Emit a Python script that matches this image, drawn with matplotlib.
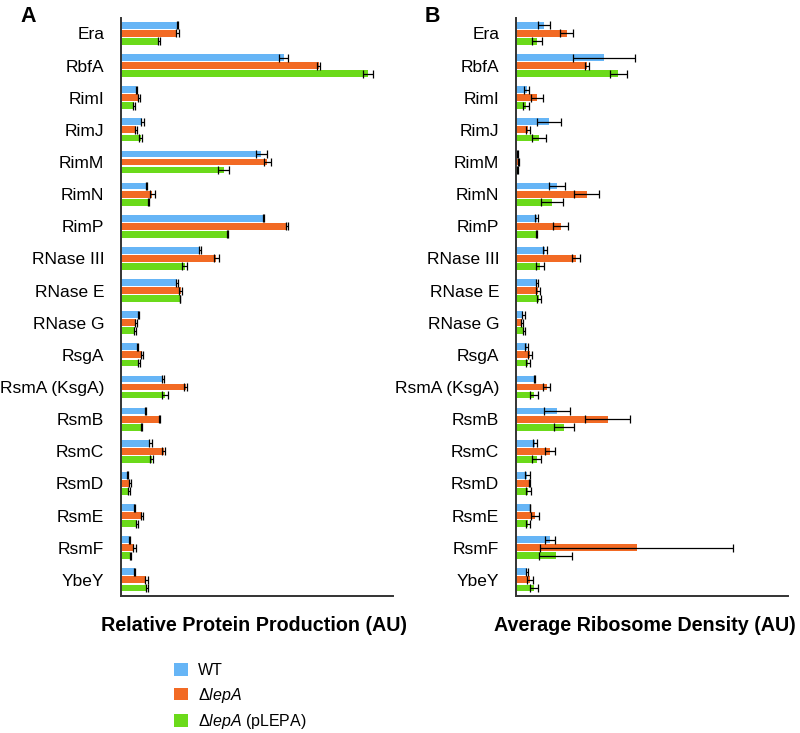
import matplotlib
matplotlib.use("Agg")
import matplotlib.pyplot as plt
import numpy as np

plt.rcParams['font.family'] = ['Liberation Sans', 'DejaVu Sans']
plt.rcParams['mathtext.fontset'] = 'custom'
plt.rcParams['mathtext.it'] = 'Liberation Sans:italic'
plt.rcParams['mathtext.rm'] = 'Liberation Sans'

categories = ["Era", "RbfA", "RimI", "RimJ", "RimM", "RimN", "RimP", "RNase III",
              "RNase E", "RNase G", "RsgA", "RsmA (KsgA)", "RsmB", "RsmC", "RsmD",
              "RsmE", "RsmF", "YbeY"]
series_labels = ["WT", r"$\mathit{\Delta lepA}$", r"$\mathit{\Delta lepA}$ (pLEPA)"]
colors = ["#66B5F6", "#F26A24", "#6BDA1A"]

# Panel A: Relative Protein Production (AU)
prod_wt = [170, 489, 47, 65, 422, 77, 428, 239, 169, 54, 50, 127, 75, 89, 21, 42, 26, 42]
prod_wt_err = [1.5, 14, 2, 5, 17, 1, 2, 3, 2, 2, 2, 3, 2, 4, 2, 1, 2, 1]
prod_dl = [170, 594, 55, 47, 440, 95, 499, 287, 180, 45, 64, 195, 117, 129, 29, 63, 41, 77]
prod_dl_err = [4, 5, 3, 3, 10, 8, 4, 8, 5, 3, 4, 4, 2, 4, 3, 3, 4, 4]
prod_pl = [115, 742, 40, 60, 309, 83, 321, 192, 178, 43, 54, 134, 62, 93, 26, 48, 29, 79]
prod_pl_err = [3, 16, 2, 4, 17, 2, 2, 8, 1, 2, 3, 9, 2, 4, 3, 3, 2, 4]

# Panel B: Average Ribosome Density (AU)
dens_wt = [84, 264, 32, 98, 4, 122, 62, 86, 62, 22, 32, 56, 122, 58, 34, 42, 102, 33]
dens_wt_err = [17, 93, 8, 36, 1, 24, 4, 6, 3, 4, 4, 1, 39, 6, 8, 1, 15, 2]
dens_dl = [152, 212, 62, 36, 7, 212, 134, 180, 66, 18, 42, 92, 275, 102, 41, 57, 362, 42]
dens_dl_err = [20, 6, 18, 5, 2, 38, 23, 11, 5, 3, 6, 11, 68, 16, 1, 11, 290, 8]
dens_pl = [62, 307, 30, 68, 4, 108, 62, 72, 69, 24, 37, 54, 144, 62, 37, 37, 119, 54]
dens_pl_err = [15, 26, 10, 21, 1, 34, 2, 12, 6, 2, 6, 11, 31, 13, 8, 6, 50, 12]

fig = plt.figure(figsize=(8.0, 7.33), dpi=100)
axA = fig.add_axes([0.151, 0.187, 0.340, 0.788])
axB = fig.add_axes([0.645, 0.187, 0.340, 0.788])

y = np.arange(len(categories))
offsets = [-0.25, 0.0, 0.25]
bh = 0.21

def draw(ax, vals, errs, xlabel, label_x):
    for k in range(3):
        ax.barh(y + offsets[k], vals[k], height=bh, color=colors[k],
                xerr=errs[k], label=series_labels[k],
                error_kw=dict(ecolor='black', elinewidth=0.9, capsize=3.2, capthick=0.9))
    ax.set_ylim(17.5, -0.47)
    ax.set_xlim(0, 817)
    ax.set_yticks(y)
    ax.set_yticklabels(categories, fontsize=12.5)
    ax.set_xticks([])
    ax.tick_params(axis='y', length=0, pad=12)
    for s in ['top', 'right']:
        ax.spines[s].set_visible(False)
    for s in ['left', 'bottom']:
        ax.spines[s].set_color('#333333')
        ax.spines[s].set_linewidth(1.4)
    ax.set_xlabel(xlabel, fontsize=14.2, fontweight='bold')
    ax.xaxis.set_label_coords(label_x, -0.035, transform=ax.transAxes)
    ax.xaxis.label.set_va('top')

draw(axA, [prod_wt, prod_dl, prod_pl], [prod_wt_err, prod_dl_err, prod_pl_err],
     "Relative Protein Production (AU)", 0.49)
draw(axB, [dens_wt, dens_dl, dens_pl], [dens_wt_err, dens_dl_err, dens_pl_err],
     "Average Ribosome Density (AU)", 0.472)

fig.text(0.025, 0.970, "A", fontsize=15.5, fontweight='bold', va='baseline', ha='left')
fig.text(0.531, 0.970, "B", fontsize=15.5, fontweight='bold', va='baseline', ha='left')

handles, labels = axA.get_legend_handles_labels()
leg = fig.legend(handles, labels, loc='upper left', bbox_to_anchor=(0.218, 0.095),
                 frameon=False, fontsize=11.5, handlelength=0.85, handleheight=0.85,
                 handletextpad=0.6, labelspacing=0.45, borderpad=0, borderaxespad=0)
leg.get_texts()[1].set_style('italic')

fig.savefig("out.png", dpi=100)
